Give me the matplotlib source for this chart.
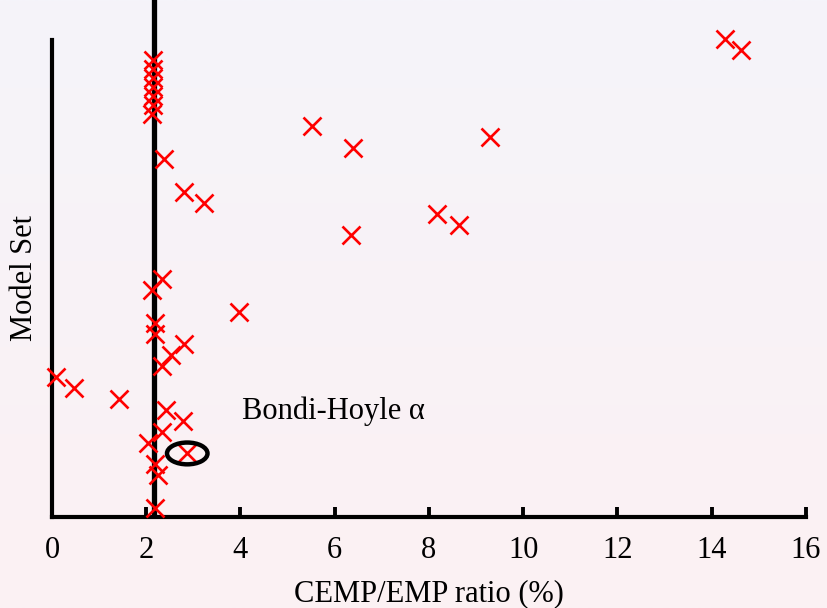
import numpy as np
import matplotlib
matplotlib.use('Agg')
import matplotlib.pyplot as plt
from matplotlib.patches import Ellipse
from matplotlib.colors import LinearSegmentedColormap

# CEMP/EMP ratio (%) for each model set
ratio = [2.19, 2.25, 2.19, 2.87, 2.04, 2.34, 2.78, 2.42, 1.42, 0.47,
         0.08, 2.34, 2.53, 2.80, 2.19, 2.19, 3.97, 2.12, 2.34, 6.35,
         8.64, 8.17, 3.23, 2.80, 2.38, 6.39, 9.30, 5.52, 2.12, 2.15,
         2.15, 2.15, 2.15, 2.15, 2.15, 14.63, 14.29]
model_set = [1.0, 4.0, 5.0, 6.0, 7.0, 8.0, 9.0, 10.0, 11.0, 12.0,
             13.0, 14.0, 15.0, 16.0, 17.0, 18.0, 19.0, 21.0, 22.0, 26.0,
             27.0, 28.0, 29.0, 30.0, 33.0, 34.0, 35.0, 36.0, 37.1, 38.0,
             38.8, 39.6, 40.4, 41.3, 42.1, 43.0, 44.0]
ref_ratio = 2.17          # vertical reference line
highlight = (2.87, 6.0)   # the circled Bondi-Hoyle model

fig = plt.figure(figsize=(8.28, 6.08), dpi=100)

# soft lavender-to-pink background
bg = fig.add_axes([0, 0, 1, 1], zorder=-1)
cmap = LinearSegmentedColormap.from_list('bg', ['#f5f4fa', '#fcf1f3'])
bg.imshow(np.linspace(0, 1, 256).reshape(-1, 1), aspect='auto', cmap=cmap,
          extent=[0, 1, 0, 1])
bg.axis('off')

ax = fig.add_axes([0.0628, 0.1497, 0.9106, 0.8503])
ax.set_facecolor('none')
ax.set_xlim(0, 16)
ax.set_ylim(0.17, 47.6)

ax.axvline(ref_ratio, color='black', lw=3.8, zorder=2)
ax.plot(ratio, model_set, 'x', color='red', ms=12.5, mew=1.9, zorder=3,
        clip_on=False)

ax.add_patch(Ellipse(highlight, 0.86, 2.0, fill=False, ec='black', lw=3.2,
                     zorder=4))
ax.text(4.03, 9.9, 'Bondi-Hoyle \u03b1', fontsize=22,
        family='Liberation Serif', va='center', ha='left')

for s in ['top', 'right']:
    ax.spines[s].set_visible(False)
ax.spines['left'].set_linewidth(3)
ax.spines['bottom'].set_linewidth(3)
ax.spines['left'].set_bounds(0.17, 43.9)
ax.set_yticks([])
ax.set_xticks(np.arange(0, 17, 2))
ax.tick_params(axis='x', direction='in', length=7, width=2.8, pad=14,
               labelsize=22)
for lab in ax.get_xticklabels():
    lab.set_family('Liberation Serif')

fig.text(0.518, 0.024, 'CEMP/EMP ratio (%)', fontsize=22,
         family='Liberation Serif', ha='center', va='center')
fig.text(0.029, 0.543, 'Model Set', fontsize=22, family='Liberation Serif',
         rotation=90, ha='center', va='center')

fig.savefig('out.png', dpi=100)
